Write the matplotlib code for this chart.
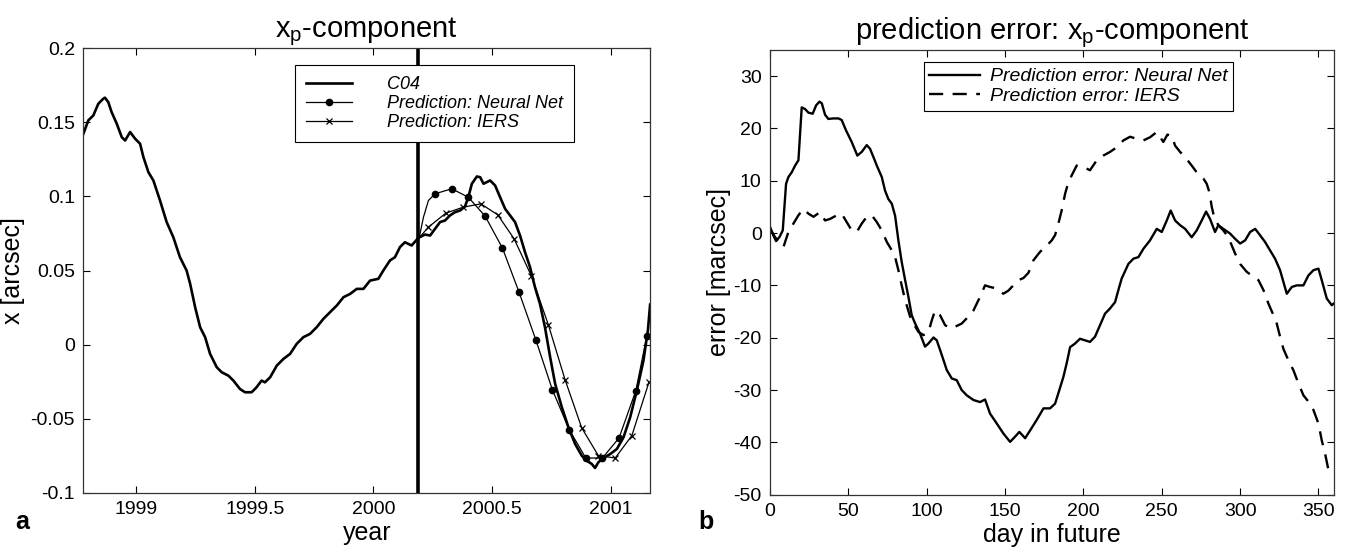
import numpy as np
import matplotlib
matplotlib.use("Agg")
from matplotlib import pyplot as plt

plt.rcParams['font.family'] = ['Liberation Sans', 'DejaVu Sans']
plt.rcParams['mathtext.fontset'] = 'custom'
plt.rcParams['mathtext.rm'] = 'Liberation Sans'
plt.rcParams['axes.unicode_minus'] = False

# panel a: polar motion x component [arcsec]
c04_year = [1998.778, 1998.799, 1998.820, 1998.841, 1998.862, 1998.869, 1998.883, 1998.897,
            1998.919, 1998.940, 1998.954, 1998.975, 1998.996, 1999.017, 1999.031, 1999.052,
            1999.073, 1999.101, 1999.129, 1999.157, 1999.185, 1999.213, 1999.228, 1999.249,
            1999.270, 1999.291, 1999.312, 1999.340, 1999.361, 1999.389, 1999.410, 1999.438,
            1999.459, 1999.487, 1999.508, 1999.529, 1999.543, 1999.565, 1999.593, 1999.621,
            1999.649, 1999.677, 1999.705, 1999.733, 1999.761, 1999.789, 1999.817, 1999.846,
            1999.874, 1999.902, 1999.930, 1999.958, 1999.986, 2000.021, 2000.042, 2000.070,
            2000.091, 2000.112, 2000.133, 2000.161, 2000.190, 2000.218, 2000.239, 2000.260,
            2000.281, 2000.302, 2000.323, 2000.344, 2000.365, 2000.386, 2000.400, 2000.415,
            2000.436, 2000.450, 2000.464, 2000.478, 2000.492, 2000.513, 2000.534, 2000.555,
            2000.576, 2000.597, 2000.618, 2000.639, 2000.660, 2000.681, 2000.702, 2000.723,
            2000.745, 2000.766, 2000.794, 2000.822, 2000.850, 2000.878, 2000.899, 2000.920,
            2000.934, 2000.948, 2000.969, 2000.998, 2001.026, 2001.054, 2001.082, 2001.110,
            2001.138, 2001.157, 2001.166]
c04_x = [0.1423, 0.1514, 0.1547, 0.1626, 0.1660, 0.1667, 0.1637, 0.1570,
         0.1490, 0.1400, 0.1378, 0.1435, 0.1390, 0.1356, 0.1266, 0.1164,
         0.1108, 0.0973, 0.0827, 0.0725, 0.0590, 0.0500, 0.0410, 0.0252,
         0.0117, 0.0050, -0.0063, -0.0153, -0.0187, -0.0210, -0.0243, -0.0300,
         -0.0322, -0.0322, -0.0288, -0.0243, -0.0255, -0.0221, -0.0142, -0.0097,
         -0.0063, 0.0005, 0.0050, 0.0072, 0.0117, 0.0173, 0.0218, 0.0264,
         0.0320, 0.0342, 0.0376, 0.0376, 0.0432, 0.0444, 0.0500, 0.0568,
         0.0590, 0.0658, 0.0691, 0.0669, 0.0721, 0.0743, 0.0736, 0.0782,
         0.0827, 0.0838, 0.0872, 0.0894, 0.0905, 0.0932, 0.0995, 0.1086,
         0.1135, 0.1130, 0.1086, 0.1097, 0.1108, 0.1074, 0.0995, 0.0917,
         0.0872, 0.0827, 0.0736, 0.0624, 0.0523, 0.0387, 0.0275, 0.0117,
         -0.0086, -0.0266, -0.0423, -0.0559, -0.0671, -0.0750, -0.0784, -0.0806,
         -0.0833, -0.0795, -0.0766, -0.0739, -0.0705, -0.0626, -0.0491, -0.0311,
         -0.0108, 0.0100, 0.0270]

nn_year = [2000.193, 2000.211, 2000.232, 2000.260, 2000.330, 2000.400, 2000.471, 2000.544,
           2000.614, 2000.684, 2000.754, 2000.825, 2000.895, 2000.965, 2001.035, 2001.106,
           2001.152]
nn_x = [0.0721, 0.0860, 0.0973, 0.1018, 0.1052, 0.0995, 0.0867, 0.0651,
        0.0353, 0.0034, -0.0304, -0.0574, -0.0766, -0.0766, -0.0631, -0.0311,
        0.0056]

iers_year = [2000.193, 2000.232, 2000.305, 2000.379, 2000.453, 2000.524, 2000.593, 2000.665,
             2000.737, 2000.808, 2000.878, 2000.948, 2001.019, 2001.089, 2001.161]
iers_x = [0.0721, 0.0793, 0.0887, 0.0928, 0.0950, 0.0876, 0.0714, 0.0466,
          0.0135, -0.0239, -0.0563, -0.0750, -0.0766, -0.0615, -0.0255]

pred_start = 2000.19

# panel b: prediction error [marcsec]
nn_day = [0, 2.1, 3.8, 6.0, 8.1, 10.2, 11.7, 13.8, 16.0, 18.1, 20.2, 22.3, 24.5, 27.2, 29.4,
          31.5, 33.0, 35.1, 37.2, 40.4, 43.6, 45.7, 48.5, 52.1, 55.7, 58.5, 61.7, 63.8, 66.0,
          68.1, 71.3, 73.4, 75.5, 77.7, 79.8, 81.9, 84.0, 86.2, 88.3, 90.4, 92.6, 95.7, 98.9,
          101.1, 104.3, 106.4, 109.6, 112.8, 116.0, 119.1, 122.3, 125.5, 129.8, 134.0, 137.2,
          140.4, 144.7, 148.9, 153.2, 156.4, 159.1, 162.8, 166.0, 170.2, 174.5, 178.7, 181.9,
          184.0, 187.2, 189.3, 191.5, 194.7, 197.8, 201.0, 204.2, 207.4, 210.6, 213.8, 217.0,
          220.2, 222.3, 224.4, 228.7, 231.9, 235.1, 238.3, 242.5, 246.8, 250.0, 253.2, 255.7,
          258.5, 261.7, 264.9, 269.1, 272.3, 275.5, 278.3, 280.8, 284.0, 286.1, 289.3, 293.6,
          296.8, 300.0, 303.2, 306.4, 309.6, 312.7, 315.9, 319.1, 322.3, 325.5, 329.8, 333.0,
          336.2, 340.4, 343.6, 346.8, 350.0, 352.1, 355.3, 358.5, 359.6]
nn_err = [1.15, -0.45, -1.53, -0.76, 0.5, 9.4, 10.7, 11.6, 12.9, 13.9, 24.0, 23.7, 23.0, 22.8, 24.4,
          25.1, 24.8, 22.6, 21.8, 21.9, 21.9, 21.6, 19.6, 17.4, 14.8, 15.5, 16.8, 16.1, 14.5,
          12.9, 10.7, 8.1, 6.5, 5.6, 3.3, -1.4, -5.5, -9.0, -12.2, -15.7, -17.3, -19.2, -21.7,
          -21.1, -19.96, -20.5, -23.3, -26.2, -27.8, -28.1, -30.0, -31.0, -31.9, -32.3, -31.8,
          -34.5, -36.4, -38.3, -39.9, -38.9, -38.0, -39.2, -37.7, -35.7, -33.5, -33.5, -32.6,
          -30.6, -27.5, -24.9, -21.8, -21.1, -20.2, -20.5, -20.8, -19.8, -17.6, -15.4, -14.4,
          -13.2, -10.9, -8.7, -5.9, -4.9, -4.6, -3.0, -1.4, 0.8, 0.2, 2.4, 4.3,
          2.4, 1.5, 0.8, -0.8, 0.5, 2.4, 4.1, 2.7, 0.2, 1.5, 0.8, -0.1,
          -1.1, -2.0, -1.4, 0.2, 0.8, -0.4, -1.7, -3.3, -4.9, -7.1, -11.6, -10.3,
          -10.0, -10.0, -8.1, -7.1, -6.8, -9.0, -12.5, -13.8, -13.5]

iers_day = [0, 3.2, 8.5, 11.7, 14.9, 18.1, 21.3, 24.5, 27.7, 31.9, 35.1, 38.3, 42.6, 45.7, 48.9,
            52.1, 55.3, 58.5, 61.7, 64.9, 68.1, 71.3, 74.5, 77.7, 79.8, 81.9, 84.0, 86.2, 89.4,
            91.5, 94.7, 97.9, 101.1, 103.2, 105.3, 108.5, 111.7, 114.9, 118.1, 122.3, 125.5,
            129.8, 134.0, 137.2, 140.4, 144.7, 148.9, 152.1, 155.3, 158.5, 161.7, 164.9, 168.1,
            172.3, 176.6, 179.8, 181.9, 184.0, 186.1, 188.3, 190.4, 192.5, 195.7, 200.0, 204.2,
            208.5, 212.7, 217.0, 221.3, 225.5, 229.8, 234.0, 238.3, 242.5, 246.8, 251.0, 253.6,
            256.4, 258.5, 261.7, 264.9, 269.1, 272.3, 276.6, 278.7, 280.4, 281.9, 283.4, 286.1,
            289.3, 292.5, 294.7, 296.8, 300.0, 304.2, 308.5, 311.7, 314.9, 318.1, 321.3, 323.4,
            325.5, 327.6, 330.8, 334.0, 337.2, 340.4, 343.6, 346.8, 350.0, 352.1, 354.2, 356.4,
            357.8]
iers_err = [0.8, -0.8, -2.7, 0.2, 1.8, 3.4, 4.6, 3.7, 3.1, 4.0, 2.4, 2.7, 3.4, 3.7, 2.1,
            0.5, 0.2, 1.8, 3.1, 3.4, 2.1, 0.5, -1.7, -3.3, -4.6, -7.1, -10.0, -12.8, -16.0,
            -17.3, -18.9, -19.5, -18.9, -16.7, -14.8, -15.7, -17.6, -18.2, -17.9, -17.3, -16.3,
            -14.8, -12.2, -10.0, -10.3, -10.6, -11.6, -11.0, -10.0, -9.0, -8.6, -7.6, -5.2,
            -3.6, -2.4, -1.4, -0.4, 1.8, 4.3, 7.5, 9.7, 11.0, 12.9, 12.6, 12.0,
            13.9, 14.8, 15.5, 16.4, 17.7, 18.4, 18.0, 17.7, 18.3, 19.3, 17.4, 18.8,
            18.6, 16.7, 15.5, 14.5, 12.9, 11.6, 10.4, 9.4, 7.8, 5.0, 3.1, 1.5,
            0.5, -0.8, -2.4, -3.9, -5.9, -7.4, -8.4, -9.0, -10.9, -13.5, -15.7, -17.3,
            -19.8, -22.1, -24.3, -26.2, -28.7, -31.0, -32.2, -33.8, -36.4, -39.6, -42.1, -45.3,
            -46.6]

year_ticks = [1999, 1999.5, 2000, 2000.5, 2001]
year_labels = ['1999', '1999.5', '2000', '2000.5', '2001']
x_ticks = [-0.1, -0.05, 0, 0.05, 0.1, 0.15, 0.2]
x_labels = ['-0.1', '-0.05', '0', '0.05', '0.1', '0.15', '0.2']
day_ticks = [0, 50, 100, 150, 200, 250, 300, 350]
err_ticks = [-50, -40, -30, -20, -10, 0, 10, 20, 30]


def matlab_axes(ax):
    ax.tick_params(direction='in', top=True, right=True, length=5, width=0.8,
                   labelsize=14, pad=6)
    for s in ax.spines.values():
        s.set_linewidth(0.9)
        s.set_color('#333333')


fig = plt.figure(figsize=(13.51, 5.54), dpi=100)

# 左图
ax1 = fig.add_axes([0.0617, 0.1107, 0.4195, 0.802])
ax1.plot(c04_year, c04_x, color='k', lw=1.9, label='C04')
ax1.plot(nn_year, nn_x, color='k', lw=0.9, marker='o', ms=4.5, markevery=list(range(3, len(nn_year))),
         label='Prediction: Neural Net')
ax1.plot(iers_year, iers_x, color='k', lw=0.9, marker='x', ms=5, mew=0.9,
         markevery=list(range(1, len(iers_year))), label='Prediction: IERS')
ax1.axvline(pred_start, color='k', lw=2.6)
ax1.set_xlim(1998.778, 2001.166)
ax1.set_ylim(-0.1, 0.2)
ax1.set_xticks(year_ticks)
ax1.set_xticklabels(year_labels)
ax1.set_yticks(x_ticks)
ax1.set_yticklabels(x_labels)
matlab_axes(ax1)
ax1.set_xlabel('year', fontsize=18, labelpad=2)
ax1.set_ylabel('x [arcsec]', fontsize=18, labelpad=4)
ax1.set_title('x$_\\mathrm{p}$-component', fontsize=21, pad=8)
leg1 = ax1.legend(loc='upper right', bbox_to_anchor=(0.865, 0.962),
                  prop={'style': 'italic', 'size': 13}, handlelength=2.6, labelspacing=0.12,
                  borderpad=0.6, handletextpad=1.9, fancybox=False, framealpha=1, borderaxespad=0)
leg1.get_frame().set_edgecolor('k')
leg1.get_frame().set_linewidth(0.8)

# 右图
ax2 = fig.add_axes([0.570, 0.107, 0.4175, 0.803])
ax2.plot(nn_day, nn_err, color='k', lw=1.7, label='Prediction error: Neural Net')
ax2.plot(iers_day, iers_err, color='k', lw=1.7, dashes=(6, 4), label='Prediction error: IERS')
ax2.set_xlim(0, 360)
ax2.set_ylim(-50, 35)
ax2.set_xticks(day_ticks)
ax2.set_yticks(err_ticks)
matlab_axes(ax2)
ax2.set_xlabel('day in future', fontsize=18, labelpad=2)
ax2.set_ylabel('error [marcsec]', fontsize=18, labelpad=2)
ax2.set_title('prediction error: x$_\\mathrm{p}$-component', fontsize=21, pad=8)
leg2 = ax2.legend(loc='upper right', bbox_to_anchor=(0.821, 0.973),
                  prop={'style': 'italic', 'size': 14}, handlelength=2.6, labelspacing=0.1,
                  borderpad=0.3, handletextpad=0.5, fancybox=False, framealpha=1, borderaxespad=0)
leg2.get_frame().set_edgecolor('k')
leg2.get_frame().set_linewidth(0.8)

fig.text(0.011, 0.045, 'a', fontsize=18, fontweight='bold')
fig.text(0.517, 0.045, 'b', fontsize=18, fontweight='bold')

fig.savefig('out.png', dpi=100)
